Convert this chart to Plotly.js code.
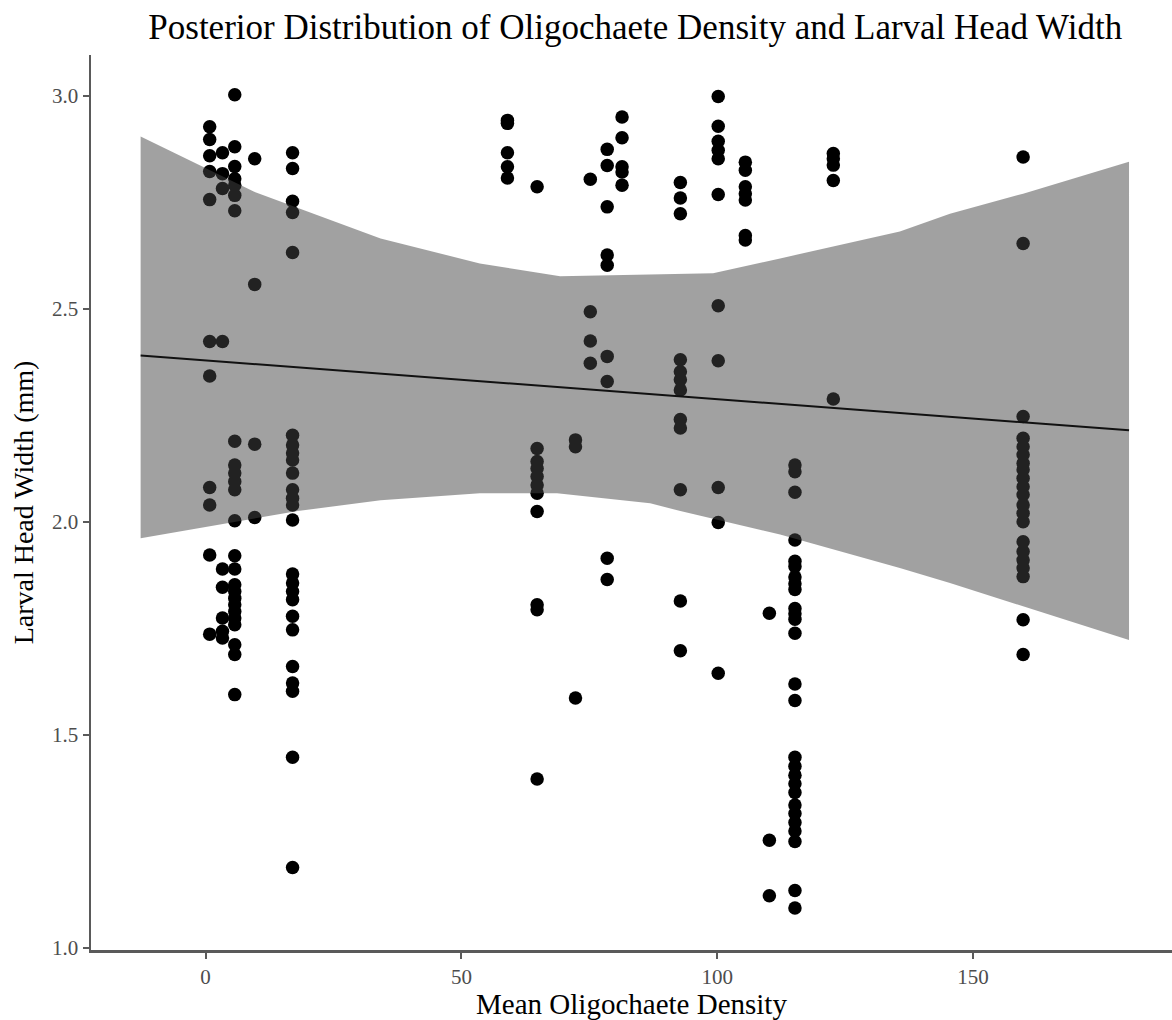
<!DOCTYPE html>
<html>
<head>
<meta charset="utf-8">
<script src="https://cdn.plot.ly/plotly-3.0.1.min.js"></script>
<style>html,body{margin:0;padding:0;background:#fff;}#chart{width:1172px;height:1020px;}</style>
</head>
<body>
<div id="chart"></div>
<script>
// Mean oligochaete density for each site (x) and larval head widths (mm) observed there
const densities = [0.8, 3.3, 5.7, 9.6, 17.0, 59.0, 64.8, 72.3, 75.2, 78.5, 81.4, 92.8, 100.2, 105.5, 110.2, 115.2, 122.7, 159.8];
const headWidths = [
  [2.927, 2.897, 2.859, 2.822, 2.756, 2.423, 2.342, 2.080, 2.039, 1.922, 1.736],
  [2.866, 2.817, 2.782, 2.423, 1.889, 1.846, 1.774, 1.743, 1.727],
  [3.002, 2.880, 2.834, 2.805, 2.790, 2.766, 2.730, 2.189, 2.133, 2.114, 2.094, 2.075, 2.002, 1.920, 1.889, 1.852, 1.836, 1.820, 1.805, 1.789, 1.774, 1.758, 1.711, 1.688, 1.594],
  [2.852, 2.557, 2.182, 2.010],
  [2.866, 2.829, 2.752, 2.726, 2.632, 2.203, 2.180, 2.161, 2.145, 2.114, 2.075, 2.055, 2.039, 2.004, 1.877, 1.856, 1.836, 1.817, 1.778, 1.746, 1.660, 1.621, 1.602, 1.447, 1.188],
  [2.942, 2.935, 2.866, 2.833, 2.807],
  [2.786, 2.172, 2.141, 2.125, 2.106, 2.086, 2.067, 2.024, 1.805, 1.793, 1.396],
  [2.192, 2.176, 1.586],
  [2.804, 2.493, 2.424, 2.372],
  [2.874, 2.836, 2.739, 2.626, 2.602, 2.388, 2.329, 1.914, 1.864],
  [2.950, 2.901, 2.833, 2.821, 2.790],
  [2.796, 2.760, 2.723, 2.380, 2.352, 2.333, 2.309, 2.240, 2.220, 2.075, 1.814, 1.697],
  [2.998, 2.928, 2.893, 2.872, 2.852, 2.768, 2.507, 2.378, 2.080, 1.998, 1.644],
  [2.844, 2.825, 2.786, 2.770, 2.755, 2.672, 2.661],
  [1.785, 1.252, 1.122],
  [2.133, 2.117, 2.069, 1.957, 1.907, 1.895, 1.870, 1.854, 1.841, 1.796, 1.784, 1.771, 1.738, 1.619, 1.580, 1.447, 1.426, 1.405, 1.385, 1.364, 1.335, 1.315, 1.294, 1.274, 1.249, 1.134, 1.093],
  [2.864, 2.852, 2.837, 2.801, 2.288],
  [2.856, 2.653, 2.247, 2.196, 2.176, 2.157, 2.137, 2.122, 2.102, 2.082, 2.063, 2.039, 2.020, 2.000, 1.953, 1.930, 1.910, 1.891, 1.871, 1.770, 1.688]
];

// Posterior credible band (upper and lower bounds) and posterior mean line
const upperX = [-12.7, 9.4, 34.2, 53.6, 69.3, 99.2, 112.3, 135.7, 145.5, 159.8, 180.5];
const upperY = [2.904, 2.775, 2.665, 2.606, 2.576, 2.583, 2.618, 2.681, 2.723, 2.770, 2.845];
const lowerX = [-12.7, 18.0, 34.2, 53.6, 68.7, 86.9, 92.8, 112.3, 135.7, 145.5, 180.5];
const lowerY = [1.961, 2.025, 2.050, 2.067, 2.067, 2.043, 2.025, 1.970, 1.891, 1.856, 1.722];
const lineX = [-12.7, 180.5];
const lineY = [2.390, 2.2145];

const xTicks = [0, 50, 100, 150];
const yTicks = [1.0, 1.5, 2.0, 2.5, 3.0];
const yTickText = ['1.0', '1.5', '2.0', '2.5', '3.0'];

const ptsX = [], ptsY = [];
densities.forEach((d, i) => headWidths[i].forEach(h => { ptsX.push(d); ptsY.push(h); }));

const bandX = upperX.concat(lowerX.slice().reverse());
const bandY = upperY.concat(lowerY.slice().reverse());

const serif = 'Liberation Serif, Times New Roman, serif';
const axisCol = '#5a5a5a';

const traces = [
  {type: 'scatter', mode: 'markers', x: ptsX, y: ptsY,
   marker: {color: '#000', size: 13.5, line: {width: 0}}, hoverinfo: 'x+y', showlegend: false},
  {type: 'scatter', mode: 'none', x: bandX, y: bandY, fill: 'toself',
   fillcolor: 'rgba(67,67,67,0.5)', hoverinfo: 'skip', showlegend: false},
  {type: 'scatter', mode: 'lines', x: lineX, y: lineY,
   line: {color: '#111', width: 2}, hoverinfo: 'skip', showlegend: false}
];

const layout = {
  width: 1172, height: 1020,
  margin: {l: 91, r: 0, t: 55, b: 70},
  paper_bgcolor: '#fff', plot_bgcolor: '#fff',
  font: {family: serif, color: '#000'},
  title: {text: 'Posterior Distribution of Oligochaete Density and Larval Head Width',
          font: {family: serif, size: 35, color: '#000'},
          x: 0.542, xref: 'container', xanchor: 'center', y: 0.974, yref: 'container', yanchor: 'middle'},
  xaxis: {range: [-22.4, 188.9], tickvals: xTicks, ticks: 'outside', ticklen: 6, tickwidth: 2,
          tickcolor: axisCol, showline: true, linecolor: axisCol, linewidth: 2.5,
          showgrid: false, zeroline: false, automargin: false,
          tickfont: {family: serif, size: 21, color: '#4d4d4d'},
          title: {text: 'Mean Oligochaete Density', font: {family: serif, size: 29, color: '#000'}, standoff: 6}},
  yaxis: {range: [0.9945, 3.0955], tickvals: yTicks, ticktext: yTickText, ticks: 'outside', ticklen: 6, tickwidth: 2,
          tickcolor: axisCol, showline: true, linecolor: axisCol, linewidth: 2.5,
          showgrid: false, zeroline: false, automargin: false,
          tickfont: {family: serif, size: 21, color: '#4d4d4d'},
          title: {text: 'Larval Head Width (mm)', font: {family: serif, size: 28, color: '#000'}, standoff: 10}},
  showlegend: false
};

Plotly.newPlot('chart', traces, layout, {displayModeBar: false, staticPlot: true});
</script>
</body>
</html>
